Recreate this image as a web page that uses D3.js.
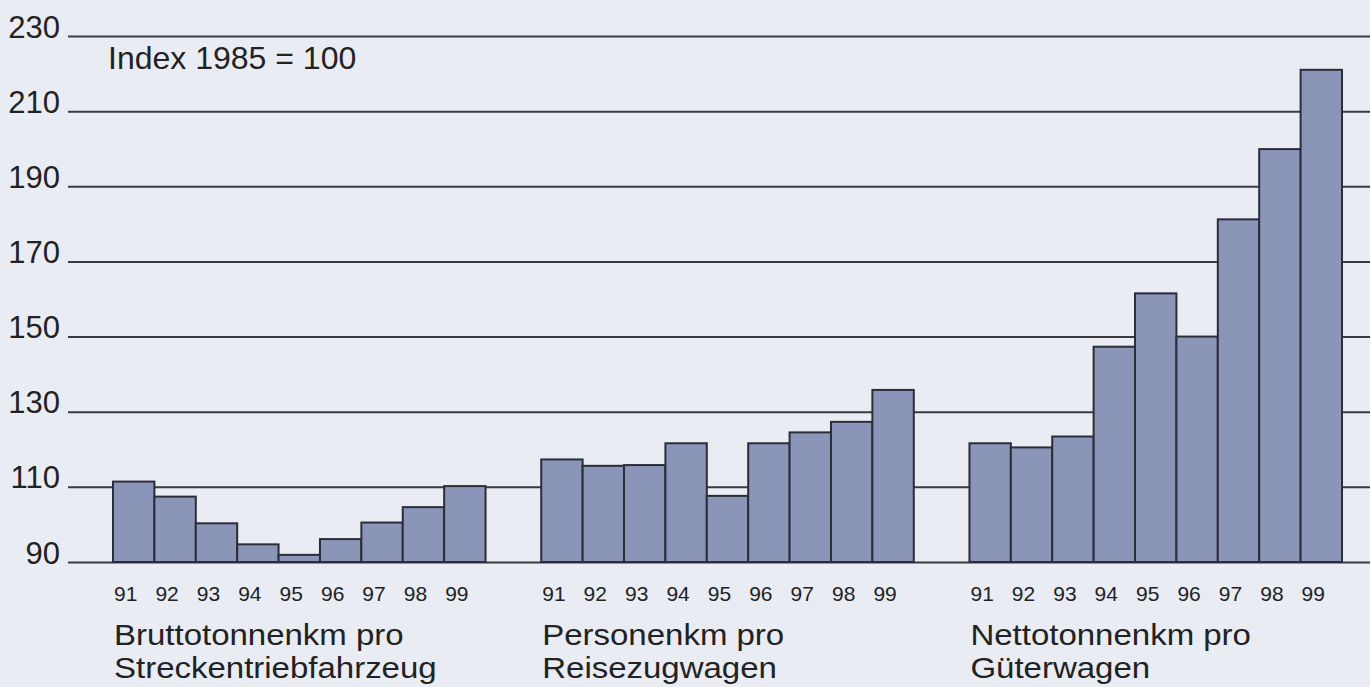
<!DOCTYPE html>
<html>
<head>
<meta charset="utf-8">
<script src="https://cdn.jsdelivr.net/npm/d3@7"></script>
<style>
  html, body { margin: 0; padding: 0; background: #e9ecf3; }
  svg { display: block; font-family: "Liberation Sans", Arial, sans-serif; }
</style>
</head>
<body>
<div id="chart"></div>
<script>
var years = ["91", "92", "93", "94", "95", "96", "97", "98", "99"];
var groups = ["Brutto", "Personen", "Netto"];
var groupLabels = [
    ["Bruttotonnenkm pro", "Streckentriebfahrzeug"],
    ["Personenkm pro", "Reisezugwagen"],
    ["Nettotonnenkm pro", "Güterwagen"]
];
var bruttoValues = [111.4, 107.4, 100.3, 94.7, 91.9, 96.1, 100.5, 104.6, 110.2];
var personenValues = [117.3, 115.6, 115.8, 121.6, 107.6, 121.6, 124.5, 127.3, 135.8];
var nettoValues = [121.6, 120.5, 123.4, 147.3, 161.5, 150.0, 181.2, 199.9, 221.0];
var yTicks = [90, 110, 130, 150, 170, 190, 210, 230];

var seriesValues = [bruttoValues, personenValues, nettoValues];

var W = 1370, H = 687;

var svg = d3.select("#chart").append("svg")
    .attr("width", W)
    .attr("height", H);

svg.append("rect").attr("width", W).attr("height", H).attr("fill", "#e9ecf3");

var y = d3.scaleLinear()
    .domain([90, 230])
    .range([562, 36]);

var x0 = d3.scaleBand()
    .domain(groups)
    .range([113, 1342])
    .paddingInner(0.13)
    .paddingOuter(0);

var x1 = d3.scaleBand()
    .domain(years)
    .range([0, x0.bandwidth()])
    .padding(0);

//gridlines with the value labels sitting on top of them
var gridLeft = 68;
var yAxis = d3.axisLeft(y)
    .tickValues(yTicks)
    .tickSize(-(W - gridLeft))
    .tickPadding(8);

var gy = svg.append("g")
    .attr("transform", "translate(" + gridLeft + ",0)")
    .call(yAxis);

gy.select(".domain").remove();
gy.selectAll(".tick line")
    .attr("stroke", "#3a3a3e")
    .attr("stroke-width", 2);
gy.selectAll(".tick text")
    .attr("fill", "#222")
    .attr("font-size", 31)
    .attr("dy", "0")
    .attr("y", 1);

svg.append("text")
    .attr("x", 108)
    .attr("y", 69)
    .attr("font-size", 32)
    .attr("fill", "#222")
    .text("Index 1985 = 100");

var g = svg.selectAll(".grp")
    .data(groups)
    .enter()
    .append("g")
    .attr("class", "grp")
    .attr("transform", function (d) {
        return "translate(" + x0(d) + ",0)";
    });

g.selectAll("rect")
    .data(function (d, i) {
        return seriesValues[i].map(function (v, j) {
            return { year: years[j], value: v };
        });
    })
    .enter()
    .append("rect")
    .attr("x", function (d) { return x1(d.year); })
    .attr("y", function (d) { return y(d.value); })
    .attr("width", x1.bandwidth())
    .attr("height", function (d) { return y(90) - y(d.value); })
    .attr("fill", "#8b95b7")
    .attr("stroke", "#2b2d3a")
    .attr("stroke-width", 2);

//year labels, left aligned with each bar
g.selectAll(".yr")
    .data(years)
    .enter()
    .append("text")
    .attr("class", "yr")
    .attr("x", function (d) { return x1(d) + 1; })
    .attr("y", 601)
    .attr("font-size", 21)
    .attr("fill", "#222")
    .text(function (d) { return d; });

//two-line group labels (type in the original is a bit wide)
g.each(function (d, i) {
    var t = d3.select(this).append("text")
        .attr("transform", "translate(1,0) scale(1.1,1)")
        .attr("font-size", 30)
        .attr("fill", "#222");
    groupLabels[i].forEach(function (line, k) {
        t.append("tspan")
            .attr("x", 0)
            .attr("y", 645 + k * 33)
            .text(line);
    });
});
</script>
</body>
</html>
